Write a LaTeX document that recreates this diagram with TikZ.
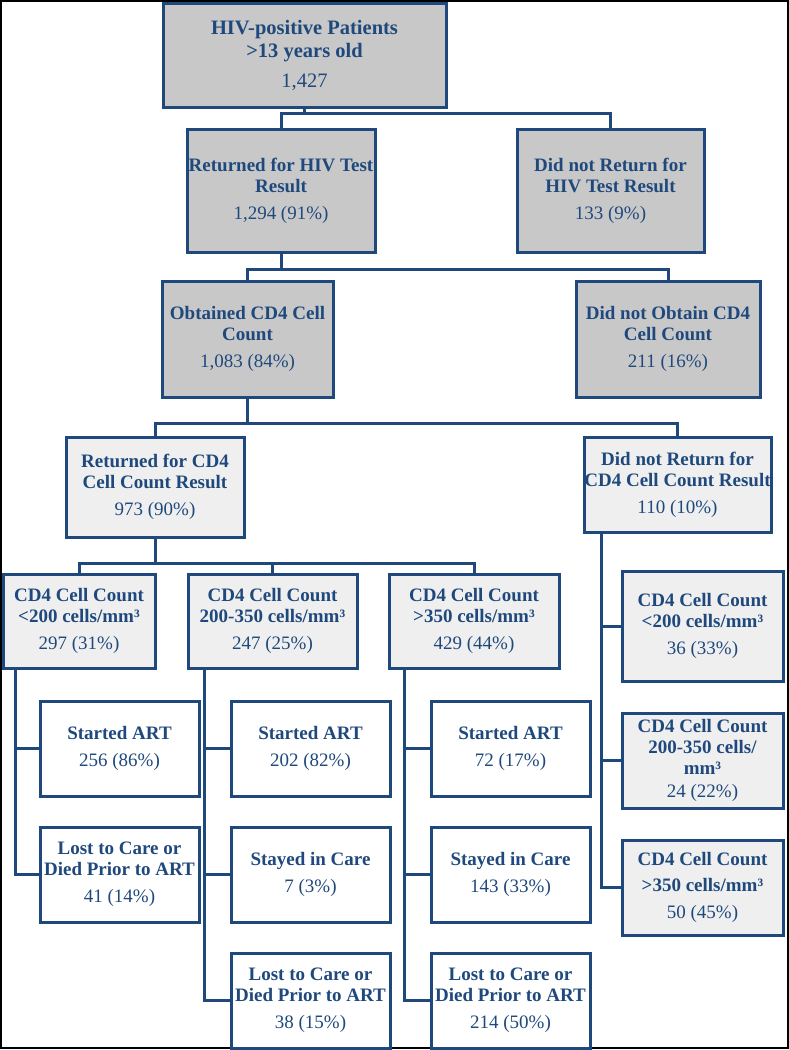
\documentclass[tikz,border=0pt]{standalone}
\usepackage{fontspec}
\setmainfont{Liberation Serif}
\definecolor{hivblue}{RGB}{31,73,125}
\definecolor{darkfill}{RGB}{200,200,200}
\definecolor{lightfill}{RGB}{239,239,239}

\begin{document}
\begin{tikzpicture}[x=1pt,y=-1pt,
  flowbox/.style={draw=hivblue,line width=3pt,text=hivblue,align=center,inner sep=0pt,
    font=\fontsize{19}{21}\selectfont\bfseries},
  topbox/.style={flowbox,fill=darkfill},
  midbox/.style={flowbox,fill=lightfill},
  endbox/.style={flowbox,fill=white,minimum width=159,minimum height=95},
  link/.style={draw=hivblue,line width=3pt}]
\useasboundingbox (0,0) rectangle (789,1050);
\draw[black,line width=1.5pt] (1,1) rectangle (788,1048);

% patients and test results
\node[topbox,minimum width=283,minimum height=104,font=\fontsize{20.5}{23}\selectfont\bfseries] (pat) at (304.5,55)
  {HIV-positive Patients\\>13 years old\\[7pt]\mdseries 1,427};
\node[topbox,minimum width=188,minimum height=123] (ret) at (281,190.5)
  {Returned for HIV Test\\Result\\[6pt]\mdseries 1,294 (91\%)};
\node[topbox,minimum width=187,minimum height=123] (noret) at (610.5,190.5)
  {Did not Return for\\HIV Test Result\\[6pt]\mdseries 133 (9\%)};
\node[topbox,minimum width=171,minimum height=116] (obt) at (247.5,339)
  {Obtained CD4 Cell\\Count\\[6pt]\mdseries 1,083 (84\%)};
\node[topbox,minimum width=184,minimum height=116] (noobt) at (668,339)
  {Did not Obtain CD4\\Cell Count\\[6pt]\mdseries 211 (16\%)};
\node[midbox,minimum width=178,minimum height=100] (rcd) at (155,487)
  {Returned for CD4\\Cell Count Result\\[6pt]\mdseries 973 (90\%)};
\node[midbox,minimum width=187,minimum height=95] (norcd) at (677.5,484.5)
  {Did not Return for\\CD4 Cell Count Result\\[6pt]\mdseries 110 (10\%)};

% cd4 groups
\node[midbox,minimum width=152,minimum height=94] (lo) at (79,621)
  {CD4 Cell Count\\<200 cells/mm³\\[6pt]\mdseries 297 (31\%)};
\node[midbox,minimum width=169,minimum height=94] (md) at (272.5,621)
  {CD4 Cell Count\\200-350 cells/mm³\\[6pt]\mdseries 247 (25\%)};
\node[midbox,minimum width=170,minimum height=94] (hi) at (474,621)
  {CD4 Cell Count\\>350 cells/mm³\\[6pt]\mdseries 429 (44\%)};
\node[midbox,minimum width=161,minimum height=110] (nrlo) at (702.5,626)
  {CD4 Cell Count\\<200 cells/mm³\\[6pt]\mdseries 36 (33\%)};
\node[midbox,minimum width=161,minimum height=95] (nrmd) at (702.5,760.5)
  {CD4 Cell Count\\200-350 cells/\\mm³\\[2pt]\mdseries 24 (22\%)};
\node[midbox,minimum width=161,minimum height=95] (nrhi) at (702.5,887.5)
  {CD4 Cell Count\\[5pt]>350 cells/mm³\\[6pt]\mdseries 50 (45\%)};

% outcomes
\node[endbox] (loart) at (119.5,748.5) {Started ART\\[6pt]\mdseries 256 (86\%)};
\node[endbox] (lolost) at (119.5,874.5) {Lost to Care or\\Died Prior to ART\\[6pt]\mdseries 41 (14\%)};
\node[endbox] (mdart) at (310.5,748.5) {Started ART\\[6pt]\mdseries 202 (82\%)};
\node[endbox] (mdstay) at (310.5,874.5) {Stayed in Care\\[6pt]\mdseries 7 (3\%)};
\node[endbox] (mdlost) at (310.5,1000.5) {Lost to Care or\\Died Prior to ART\\[6pt]\mdseries 38 (15\%)};
\node[endbox] (hiart) at (510.5,748.5) {Started ART\\[6pt]\mdseries 72 (17\%)};
\node[endbox] (histay) at (510.5,874.5) {Stayed in Care\\[6pt]\mdseries 143 (33\%)};
\node[endbox] (hilost) at (510.5,1000.5) {Lost to Care or\\Died Prior to ART\\[6pt]\mdseries 214 (50\%)};

% tree links
\draw[link] (pat.south) -- ([yshift=-5pt]pat.south) -| (ret.north);
\draw[link] ([yshift=-5pt]pat.south) -| (noret.north);
\draw[link] (ret.south) -- ([yshift=-16pt]ret.south) -| (obt.north);
\draw[link] ([yshift=-16pt]ret.south) -| (noobt.north);
\draw[link] (obt.south) -- ([yshift=-25pt]obt.south) -| (rcd.north);
\draw[link] ([yshift=-25pt]obt.south) -| (norcd.north);
\draw[link] (rcd.south) -- ([yshift=-25pt]rcd.south) -| (lo.north);
\draw[link] ([yshift=-25pt]rcd.south) -| (md.north);
\draw[link] ([yshift=-25pt]rcd.south) -| (hi.north);

% trunks down to the outcomes
\coordinate (lotrunk) at ([xshift=14pt]lo.south west);
\coordinate (mdtrunk) at ([xshift=18pt]md.south west);
\coordinate (hitrunk) at ([xshift=17pt]hi.south west);
\coordinate (nrtrunk) at ([xshift=19pt]norcd.south west);
\draw[link] (lotrunk) |- (lolost.west);
\draw[link] (lotrunk |- loart.west) -- (loart.west);
\draw[link] (mdtrunk) |- (mdlost.west);
\draw[link] (mdtrunk |- mdart.west) -- (mdart.west);
\draw[link] (mdtrunk |- mdstay.west) -- (mdstay.west);
\draw[link] (hitrunk) |- (hilost.west);
\draw[link] (hitrunk |- hiart.west) -- (hiart.west);
\draw[link] (hitrunk |- histay.west) -- (histay.west);
\draw[link] (nrtrunk) |- (nrhi.west);
\draw[link] (nrtrunk |- nrlo.west) -- (nrlo.west);
\draw[link] (nrtrunk |- nrmd.west) -- (nrmd.west);
\end{tikzpicture}
\end{document}
